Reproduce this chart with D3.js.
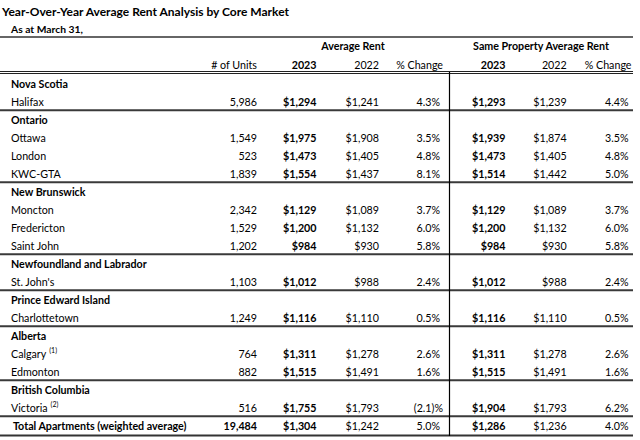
<!DOCTYPE html>
<html><head><meta charset="utf-8">
<script src="https://cdn.jsdelivr.net/npm/d3@7"></script>
<style>
body{margin:0;background:#fff}
svg text{font-family:Lato,"Open Sans",sans-serif;fill:#000}
</style>
</head><body>
<svg id="chart" width="640" height="440"></svg>
<script>
const title = "Year-Over-Year Average Rent Analysis by Core Market";
const subtitle = "As at March 31,";
const provinces = ["Nova Scotia","Ontario","New Brunswick","Newfoundland and Labrador","Prince Edward Island","Alberta","British Columbia"];
const markets = ["Halifax","Ottawa","London","KWC-GTA","Moncton","Fredericton","Saint John","St. John's","Charlottetown","Calgary","Edmonton","Victoria"];
const marketProvince = ["Nova Scotia","Ontario","Ontario","Ontario","New Brunswick","New Brunswick","New Brunswick","Newfoundland and Labrador","Prince Edward Island","Alberta","Alberta","British Columbia"];
const footnotes = ["","","","","","","","","","(1)","","(2)"];
const units = [5986,1549,523,1839,2342,1529,1202,1103,1249,764,882,516];
const avgRent2023 = [1294,1975,1473,1554,1129,1200,984,1012,1116,1311,1515,1755];
const avgRent2022 = [1241,1908,1405,1437,1089,1132,930,988,1110,1278,1491,1793];
const avgRentChange = [4.3,3.5,4.8,8.1,3.7,6.0,5.8,2.4,0.5,2.6,1.6,-2.1];
const sameRent2023 = [1293,1939,1473,1514,1129,1200,984,1012,1116,1311,1515,1904];
const sameRent2022 = [1239,1874,1405,1442,1089,1132,930,988,1110,1278,1491,1793];
const sameRentChange = [4.4,3.5,4.8,5.0,3.7,6.0,5.8,2.4,0.5,2.6,1.6,6.2];
const totalLabel = "Total Apartments (weighted average)";
const totalValues = [19484,1304,1242,5.0,1286,1236,4.0];
const columnKeys = ["units","avg23","avg22","avgPct","same23","same22","samePct"];
const columnHeaders = ["# of Units","2023","2022","% Change","2023","2022","% Change"];
const groupHeaders = ["Average Rent","Same Property Average Rent"];

const svg = d3.select("#chart");
const FS = 10.7;
const boldCols = new Set(["avg23","same23"]);
const pctCols = new Set(["avgPct","samePct"]);
const moneyCols = new Set(["avg23","avg22","same23","same22"]);

// column right edges
const xCol = d3.scaleOrdinal().domain(columnKeys).range([257,316.5,379,443,505.5,566.7,631.5]);
const fmtInt = d3.format(",");
const fmt1 = d3.format(".1f");
function fmtCell(key, v){
  if (key === "units") return fmtInt(v);
  if (moneyCols.has(key)) return "$" + fmtInt(v);
  return v < 0 ? "(" + fmt1(-v) + ")%" : fmt1(v) + "%";
}

// build rows
const rows = [];
provinces.forEach(p => {
  rows.push({type:"group", label:p});
  markets.forEach((m,i) => {
    if (marketProvince[i] === p) {
      rows.push({type:"market", label:m, note:footnotes[i], last:false,
        values:[units[i],avgRent2023[i],avgRent2022[i],avgRentChange[i],sameRent2023[i],sameRent2022[i],sameRentChange[i]]});
    }
  });
  rows[rows.length-1].last = true;
});
rows.push({type:"total", label:totalLabel, values:totalValues});

const y = d3.scaleLinear().domain([0, rows.length-1]).range([83.8, 83.8 + 18*(rows.length-1)]);

// title
svg.append("text").attr("x",2).attr("y",11.5).attr("dy","0.35em")
  .attr("font-size",12).attr("font-weight","bold").text(title);
svg.append("text").attr("x",11).attr("y",29.5).attr("dy","0.35em")
  .attr("font-size",10.3).attr("font-weight","bold").text(subtitle);

// lines
svg.append("line").attr("x1",0).attr("x2",633).attr("y1",37).attr("y2",37)
  .attr("stroke","#333").attr("stroke-width",1.6);
[71.5,73.5].forEach(yy => svg.append("line").attr("x1",0).attr("x2",633).attr("y1",yy).attr("y2",yy)
  .attr("stroke","#222").attr("stroke-width",1));

// header group labels
svg.append("text").attr("x",353).attr("y",46.5).attr("dy","0.35em").attr("text-anchor","middle")
  .attr("font-size",FS).attr("font-weight","bold").text(groupHeaders[0]);
svg.append("text").attr("x",541).attr("y",46.5).attr("dy","0.35em").attr("text-anchor","middle")
  .attr("font-size",FS).attr("font-weight","bold").text(groupHeaders[1]);

// column headers
svg.selectAll("text.colhead").data(columnKeys).join("text").attr("class","colhead")
  .attr("x", k => xCol(k)).attr("y",65.5).attr("dy","0.35em").attr("text-anchor","end")
  .attr("font-size",FS).attr("font-weight", k => boldCols.has(k) ? "bold" : "normal")
  .text((k,i) => columnHeaders[i]);

// row labels
const rowG = svg.selectAll("g.row").data(rows).join("g").attr("class","row")
  .attr("transform",(d,i) => `translate(0,${y(i)})`);

rowG.append("text").attr("x", d => d.type === "total" ? 13 : 11).attr("dy","0.35em")
  .attr("font-size",FS).attr("font-weight", d => d.type === "market" ? "normal" : "bold")
  .each(function(d){
    const t = d3.select(this);
    t.append("tspan").text(d.label);
    if (d.note) {
      t.append("tspan").attr("font-size",7).attr("dx",3).attr("dy","-0.6em").text(d.note);
    }
  });

rowG.filter(d => d.values).selectAll("text.val")
  .data(d => d.values.map((v,j) => ({v, key:columnKeys[j], total:d.type==="total"})))
  .join("text").attr("class","val")
  .attr("x", c => pctCols.has(c.key) && c.v >= 0 ? xCol(c.key) - 3 : xCol(c.key))
  .attr("dy","0.35em").attr("text-anchor","end").attr("font-size",FS)
  .attr("font-weight", c => boldCols.has(c.key) || (c.total && c.key==="units") ? "bold" : "normal")
  .text(c => fmtCell(c.key, c.v));

// separators
rows.forEach((r,i) => {
  if (r.last) {
    svg.append("line").attr("x1",0).attr("x2",633).attr("y1",y(i)+8.5).attr("y2",y(i)+8.5)
      .attr("stroke","#3a3a3a").attr("stroke-width",2);
  }
});
svg.append("line").attr("x1",0).attr("x2",633).attr("y1",435.5).attr("y2",435.5)
  .attr("stroke","#333").attr("stroke-width",2);

// vertical divider
svg.append("line").attr("x1",449.5).attr("x2",449.5).attr("y1",72).attr("y2",436)
  .attr("stroke","#000").attr("stroke-width",1.2);
</script>
</body></html>
